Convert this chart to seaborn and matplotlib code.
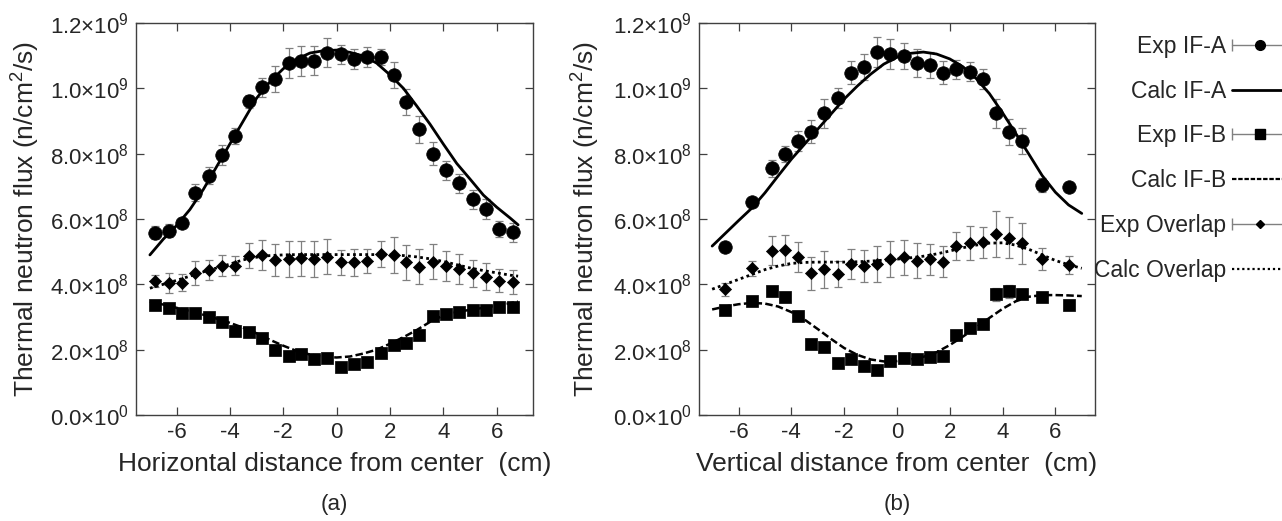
import numpy as np
import matplotlib
matplotlib.use("Agg")
import matplotlib.pyplot as plt
from matplotlib.lines import Line2D
from matplotlib.legend_handler import HandlerLine2D, HandlerTuple
from matplotlib.ticker import FuncFormatter
import seaborn as sns

UNIT = 1e8  # values below are in units of 1e8 n/cm^2/s

# ---------- (a) horizontal profile ----------
h_x = [-6.8, -6.3, -5.8, -5.3, -4.8, -4.3, -3.8, -3.3, -2.8, -2.3, -1.8, -1.35, -0.85, -0.35,
       0.15, 0.65, 1.15, 1.65, 2.15, 2.6, 3.1, 3.6, 4.1, 4.6, 5.1, 5.6, 6.1, 6.6]
h_exp_a = [5.58, 5.64, 5.89, 6.81, 7.33, 7.96, 8.54, 9.60, 10.03, 10.28, 10.77, 10.83, 10.85, 11.09,
           11.04, 10.89, 10.95, 10.95, 10.40, 9.59, 8.74, 8.00, 7.49, 7.09, 6.60, 6.30, 5.70, 5.59]
h_err_a = [0.20, 0.20, 0.15, 0.25, 0.25, 0.30, 0.25, 0.20, 0.30, 0.40, 0.45, 0.45, 0.45, 0.45,
           0.30, 0.30, 0.30, 0.25, 0.40, 0.40, 0.40, 0.35, 0.30, 0.30, 0.30, 0.30, 0.25, 0.30]
h_exp_b = [3.37, 3.27, 3.11, 3.11, 2.99, 2.85, 2.58, 2.55, 2.35, 1.99, 1.81, 1.86, 1.72, 1.75,
           1.47, 1.56, 1.61, 1.90, 2.14, 2.19, 2.44, 3.04, 3.08, 3.16, 3.21, 3.21, 3.32, 3.32]
h_err_b = [0.08] * 28
h_exp_o = [4.10, 4.05, 4.05, 4.34, 4.44, 4.57, 4.57, 4.88, 4.90, 4.74, 4.78, 4.80, 4.77, 4.85,
           4.67, 4.67, 4.72, 4.93, 4.90, 4.67, 4.54, 4.69, 4.56, 4.46, 4.34, 4.23, 4.11, 4.06]
h_err_o = [0.17, 0.31, 0.27, 0.36, 0.31, 0.32, 0.30, 0.39, 0.46, 0.49, 0.55, 0.54, 0.55, 0.54,
           0.38, 0.42, 0.37, 0.41, 0.56, 0.54, 0.53, 0.54, 0.46, 0.46, 0.41, 0.41, 0.35, 0.37]

h_cx = [-7.0, -6.5, -6.0, -5.5, -5.0, -4.5, -4.0, -3.5, -3.0, -2.5, -2.0, -1.5, -1.0, -0.5, 0.0,
        0.5, 1.0, 1.5, 2.0, 2.5, 3.0, 3.5, 4.0, 4.5, 5.0, 5.5, 6.0, 6.5, 6.8]
h_calc_a = [4.90, 5.38, 5.80, 6.29, 6.90, 7.60, 8.30, 9.00, 9.70, 10.20, 10.60, 10.89, 11.08, 11.15, 11.17,
            11.10, 10.99, 10.77, 10.41, 10.00, 9.46, 8.90, 8.29, 7.70, 7.22, 6.73, 6.36, 6.03, 5.82]
h_calc_b = [3.47, 3.38, 3.28, 3.18, 3.07, 2.95, 2.82, 2.67, 2.50, 2.30, 2.12, 1.96, 1.85, 1.78, 1.76,
            1.79, 1.88, 2.00, 2.18, 2.38, 2.60, 2.85, 3.05, 3.15, 3.22, 3.28, 3.35, 3.42, 3.47]
h_calc_o = [3.88, 4.00, 4.12, 4.25, 4.38, 4.50, 4.62, 4.75, 4.83, 4.88, 4.90, 4.91, 4.91, 4.91, 4.91,
            4.91, 4.91, 4.91, 4.90, 4.88, 4.84, 4.78, 4.70, 4.60, 4.50, 4.42, 4.35, 4.28, 4.25]

# ---------- (b) vertical profile ----------
v_x = [-6.5, -5.5, -4.75, -4.25, -3.75, -3.25, -2.75, -2.25, -1.75, -1.25, -0.75, -0.25,
       0.25, 0.75, 1.25, 1.75, 2.25, 2.75, 3.25, 3.75, 4.25, 4.75, 5.5, 6.5]
v_exp_a = [5.15, 6.51, 7.55, 7.98, 8.39, 8.67, 9.23, 9.71, 10.48, 10.66, 11.11, 11.05,
           10.99, 10.78, 10.71, 10.48, 10.58, 10.51, 10.28, 9.23, 8.66, 8.39, 7.04, 6.97]
v_err_a = [0.05, 0.05, 0.25, 0.25, 0.30, 0.35, 0.45, 0.30, 0.35, 0.40, 0.45, 0.45,
           0.40, 0.42, 0.40, 0.35, 0.30, 0.30, 0.30, 0.45, 0.40, 0.40, 0.20, 0.10]
v_exp_b = [3.21, 3.50, 3.78, 3.60, 3.03, 2.17, 2.07, 1.58, 1.70, 1.51, 1.38, 1.66,
           1.74, 1.70, 1.78, 1.81, 2.45, 2.65, 2.79, 3.70, 3.78, 3.70, 3.62, 3.37]
v_err_b = [0.08, 0.08, 0.15, 0.15, 0.08, 0.08, 0.08, 0.08, 0.08, 0.08, 0.08, 0.08,
           0.08, 0.08, 0.08, 0.08, 0.10, 0.10, 0.10, 0.20, 0.20, 0.15, 0.08, 0.08]
v_exp_o = [3.85, 4.49, 5.03, 5.05, 4.83, 4.34, 4.46, 4.31, 4.61, 4.57, 4.62, 4.77,
           4.83, 4.72, 4.77, 4.69, 5.17, 5.27, 5.28, 5.54, 5.43, 5.26, 4.77, 4.59]
v_err_o = [0.20, 0.23, 0.44, 0.45, 0.46, 0.51, 0.56, 0.39, 0.46, 0.49, 0.55, 0.56,
           0.54, 0.53, 0.47, 0.47, 0.44, 0.53, 0.46, 0.71, 0.63, 0.63, 0.33, 0.28]

v_cx = [-7.0, -6.5, -6.0, -5.5, -5.0, -4.5, -4.0, -3.5, -3.0, -2.5, -2.0, -1.5, -1.0, -0.5, 0.0,
        0.5, 1.0, 1.5, 2.0, 2.5, 3.0, 3.5, 4.0, 4.5, 5.0, 5.5, 6.0, 6.5, 7.0]
v_calc_a = [5.17, 5.56, 5.95, 6.33, 6.80, 7.32, 7.83, 8.29, 8.75, 9.21, 9.67, 10.07, 10.43, 10.74, 10.95,
            11.07, 11.11, 11.05, 10.90, 10.66, 10.30, 9.84, 9.25, 8.62, 7.98, 7.33, 6.82, 6.43, 6.17]
v_calc_b = [3.23, 3.32, 3.39, 3.43, 3.41, 3.32, 3.15, 2.92, 2.63, 2.33, 2.05, 1.84, 1.70, 1.64, 1.65,
            1.70, 1.78, 1.92, 2.14, 2.40, 2.68, 2.97, 3.25, 3.48, 3.62, 3.67, 3.67, 3.66, 3.64]
v_calc_o = [3.85, 4.00, 4.15, 4.30, 4.45, 4.56, 4.64, 4.67, 4.68, 4.68, 4.68, 4.69, 4.71, 4.74, 4.77,
            4.81, 4.86, 4.93, 5.02, 5.12, 5.20, 5.26, 5.27, 5.20, 5.07, 4.90, 4.73, 4.60, 4.49]

labels = ["Exp IF-A", "Calc IF-A", "Exp IF-B", "Calc IF-B", "Exp Overlap", "Calc Overlap"]

sns.set_style("ticks")
plt.rcParams["font.family"] = ["Liberation Sans", "DejaVu Sans"]
plt.rcParams["mathtext.default"] = "regular"
plt.rcParams["axes.unicode_minus"] = False

DASHED = (0, (3, 1.3))
DOTTED = (0, (1, 1.2))
ERR = "0.5"


def sci(v, pos):
    if v == 0:
        return "0.0×10$^{0}$"
    e = int(np.floor(np.log10(abs(v))))
    return "%.1f×10$^{%d}$" % (v / 10 ** e, e)


def panel(ax, x, ea, sa, eb, sb, eo, so, cx, ca, cb, co, xlabel, xlim, ylab_x):
    x = np.array(x)
    for ys, es, m, s in [(ea, sa, "o", 95), (eb, sb, "s", 85), (eo, so, "D", 38)]:
        ax.errorbar(x, np.array(ys) * UNIT, yerr=np.array(es) * UNIT, fmt="none",
                    ecolor=ERR, elinewidth=0.9, capsize=3, capthick=0.9, zorder=2)
        sns.scatterplot(x=x, y=np.array(ys) * UNIT, marker=m, s=s, color="black",
                        edgecolor="black", linewidth=0.5, ax=ax, zorder=3)
    cx = np.array(cx)
    sns.lineplot(x=cx, y=np.array(ca) * UNIT, color="black", lw=2.0, ax=ax, sort=False, zorder=4)
    sns.lineplot(x=cx, y=np.array(cb) * UNIT, color="black", lw=1.8, linestyle=DASHED, ax=ax, sort=False, zorder=4)
    sns.lineplot(x=cx, y=np.array(co) * UNIT, color="black", lw=2.0, linestyle=DOTTED, ax=ax, sort=False, zorder=4)

    ax.set_xlim(*xlim)
    ax.set_ylim(0, 1.2e9)
    ax.set_xticks([-6, -4, -2, 0, 2, 4, 6])
    ax.set_yticks(np.arange(0, 1.21e9, 2e8))
    ax.yaxis.set_major_formatter(FuncFormatter(sci))
    ax.tick_params(direction="in", top=True, right=True, length=6, width=0.9,
                   labelsize=16, pad=5, color="0.25")
    for sp in ax.spines.values():
        sp.set_linewidth(1.0)
        sp.set_color("0.25")
    ax.set_xlabel(xlabel, fontsize=19)
    ax.set_ylabel("Thermal neutron flux (n/cm$^2$/s)", fontsize=19)
    ax.xaxis.set_label_coords(0.5, -0.095)
    ax.yaxis.set_label_coords(ylab_x, 0.5)


fig = plt.figure(figsize=(12.82, 5.21), dpi=100)
ax1 = fig.add_axes([0.1061, 0.2035, 0.3097, 0.7524])
ax2 = fig.add_axes([0.5452, 0.2035, 0.3089, 0.7524])

panel(ax1, h_x, h_exp_a, h_err_a, h_exp_b, h_err_b, h_exp_o, h_err_o,
      h_cx, h_calc_a, h_calc_b, h_calc_o, "Horizontal distance from center  (cm)", (-7.52, 7.36), -0.237)
panel(ax2, v_x, v_exp_a, v_err_a, v_exp_b, v_err_b, v_exp_o, v_err_o,
      v_cx, v_calc_a, v_calc_b, v_calc_o, "Vertical distance from center  (cm)", (-7.5, 7.5), -0.245)

fig.text(0.2610, 0.031, "(a)", ha="center", va="center", fontsize=16)
fig.text(0.6997, 0.031, "(b)", ha="center", va="center", fontsize=16)

# gnuplot-style key: label on the left, sample on the right
caps = [Line2D([], [], color=ERR, lw=1.0, marker="|", markersize=8, mew=1.0) for _ in range(3)]
dots = [Line2D([], [], ls="none", marker=m, color="black", markersize=ms)
        for m, ms in [("o", 7), ("s", 6.5), ("D", 4.5)]]
calc = [Line2D([], [], color="black", lw=2.0),
        Line2D([], [], color="black", lw=1.6, ls=(0, (2, 0.8))),
        Line2D([], [], color="black", lw=1.6, ls=(0, (1, 1.3)))]
handles = [(caps[0], dots[0]), calc[0], (caps[1], dots[1]), calc[1], (caps[2], dots[2]), calc[2]]
hmap = {tuple: HandlerTuple(ndivide=1)}
for c in caps:
    hmap[c] = HandlerLine2D(numpoints=2, marker_pad=0)
fig.legend(handles, labels, handler_map=hmap, loc="upper right",
           bbox_to_anchor=(1.0055, 0.933), frameon=False, markerfirst=False,
           fontsize=16.5, handlelength=2.5, handletextpad=0.25, labelspacing=0.95,
           borderpad=0, borderaxespad=0)

fig.savefig("out.png", dpi=100)
